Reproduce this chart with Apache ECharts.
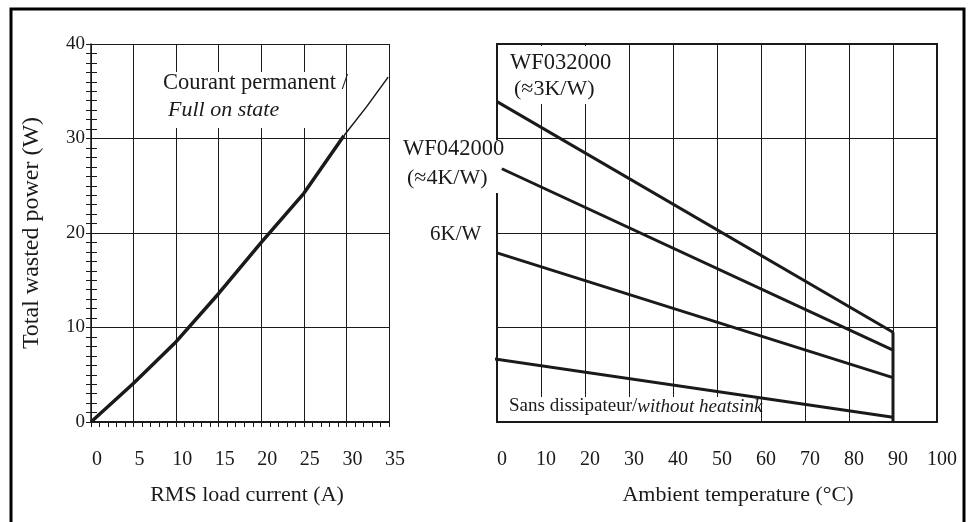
<!DOCTYPE html>
<html><head><meta charset="utf-8">
<script src="https://cdn.jsdelivr.net/npm/echarts@6.0.0/dist/echarts.min.js"></script>
<style>html,body{margin:0;padding:0;background:#fff}#c{width:973px;height:522px}</style>
</head><body><div id="c"></div>
<script>
// ---- Left chart: total wasted power vs RMS load current ----
const loadCurrentA      = [0, 5, 10, 15, 20, 25, 29.7];
const wastedPowerW      = [0, 4.1, 8.5, 13.6, 19.0, 24.2, 30.3];
const loadCurrentThinA  = [29.7, 32.4, 34.9];
const wastedPowerThinW  = [30.3, 33.4, 36.5];
// ---- Right chart: max power vs ambient temperature ----
const temp3KW   = [0, 90];   const power3KW   = [33.9, 9.5];
const temp4KW   = [1.1, 90]; const power4KW   = [26.8, 7.6];
const temp6KW   = [0, 90];   const power6KW   = [17.9, 4.7];
const tempNoHS  = [-1, 90];  const powerNoHS  = [6.7, 0.5];
const cutoffTemp = [90, 90]; const cutoffPower = [0, 9.5];
// axis ranges
const currentAxis = {min: 0, max: 35, interval: 5};
const powerAxis   = {min: 0, max: 40, interval: 10};
const tempAxis    = {min: 0, max: 100, interval: 10};

const FONT = '"Liberation Serif", "DejaVu Serif", serif';
const INK = '#1a1a1a';
const zip = (a, b) => a.map((v, i) => [v, b[i]]);

const chart = echarts.init(document.getElementById('c'), null, {renderer: 'canvas'});
const line = (xi, yi, xs, ys, w, extra) => Object.assign({
  type: 'line', xAxisIndex: xi, yAxisIndex: yi, data: zip(xs, ys),
  showSymbol: false, symbol: 'none', animation: false, z: 3,
  lineStyle: {color: INK, width: w, cap: 'butt'}
}, extra || {});

chart.setOption({
  animation: false,
  backgroundColor: '#fff',
  textStyle: {fontFamily: FONT, color: INK},
  grid: [
    {left: 91, top: 44, width: 298, height: 378, containLabel: false},
    {left: 497, top: 44, width: 440, height: 378, containLabel: false,
     show: true, borderColor: INK, borderWidth: 2, backgroundColor: 'transparent'}
  ],
  xAxis: [
    {gridIndex: 0, type: 'value', min: currentAxis.min, max: currentAxis.max, interval: currentAxis.interval,
     name: 'RMS load current (A)', nameLocation: 'middle', nameGap: 62,
     nameTextStyle: {fontFamily: FONT, fontSize: 22, color: INK, padding: [0, 0, 0, 14]},
     axisLine: {show: true, lineStyle: {color: INK, width: 2}},
     axisTick: {show: true, length: 5, lineStyle: {color: INK, width: 1}},
     minorTick: {show: true, splitNumber: 5, length: 5, lineStyle: {color: INK, width: 1}},
     splitLine: {show: true, lineStyle: {color: INK, width: 1}},
     axisLabel: {fontFamily: FONT, fontSize: 20, color: INK, margin: 28, padding: [0, 0, 0, 12]}},
    {gridIndex: 1, type: 'value', min: tempAxis.min, max: tempAxis.max, interval: tempAxis.interval,
     name: 'Ambient temperature (°C)', nameLocation: 'middle', nameGap: 62,
     nameTextStyle: {fontFamily: FONT, fontSize: 22, color: INK, padding: [0, 0, 0, 42]},
     axisLine: {show: true, lineStyle: {color: INK, width: 2}},
     axisTick: {show: false},
     splitLine: {show: true, lineStyle: {color: INK, width: 1}},
     axisLabel: {fontFamily: FONT, fontSize: 20, color: INK, margin: 28, padding: [0, 0, 0, 10]}}
  ],
  yAxis: [
    {gridIndex: 0, type: 'value', min: powerAxis.min, max: powerAxis.max, interval: powerAxis.interval,
     name: 'Total wasted power (W)', nameLocation: 'middle', nameGap: 47,
     nameTextStyle: {fontFamily: FONT, fontSize: 24, color: INK},
     axisLine: {show: true, lineStyle: {color: INK, width: 1.5}},
     axisTick: {show: true, length: 5, lineStyle: {color: INK, width: 1}},
     minorTick: {show: true, splitNumber: 10, length: 5, lineStyle: {color: INK, width: 1}},
     splitLine: {show: true, lineStyle: {color: INK, width: 1}},
     axisLabel: {fontFamily: FONT, fontSize: 19, color: INK, margin: 6}},
    {gridIndex: 0, type: 'value', min: powerAxis.min, max: powerAxis.max, interval: powerAxis.interval,
     position: 'left',
     axisLine: {show: false},
     axisTick: {show: true, inside: true, length: 6, lineStyle: {color: INK, width: 1}},
     minorTick: {show: true, splitNumber: 10, length: 6, lineStyle: {color: INK, width: 1}},
     splitLine: {show: false}, axisLabel: {show: false}},
    {gridIndex: 1, type: 'value', min: powerAxis.min, max: powerAxis.max, interval: powerAxis.interval,
     axisLine: {show: true, lineStyle: {color: INK, width: 2}},
     axisTick: {show: false},
     splitLine: {show: true, lineStyle: {color: INK, width: 1}},
     axisLabel: {show: false}}
  ],
  series: [
    line(0, 0, loadCurrentA, wastedPowerW, 3.5),
    line(0, 0, loadCurrentThinA, wastedPowerThinW, 1.5),
    line(1, 2, temp3KW, power3KW, 3),
    line(1, 2, temp4KW, power4KW, 3),
    line(1, 2, temp6KW, power6KW, 3),
    line(1, 2, tempNoHS, powerNoHS, 3, {clip: false}),
    line(1, 2, cutoffTemp, cutoffPower, 3)
  ],
  graphic: [
    {type: 'rect', z: 100, silent: true, shape: {x: 11, y: 9, width: 953, height: 540},
     style: {fill: 'none', stroke: '#000', lineWidth: 3}},
    // left annotation
    {type: 'rect', z: 1, silent: true, shape: {x: 158, y: 72, width: 186, height: 56}, style: {fill: '#fff'}},
    {type: 'text', z: 5, left: 163, top: 72,
     style: {text: 'Courant permanent /', font: '22.5px ' + FONT, fill: INK}},
    {type: 'text', z: 5, left: 168, top: 99,
     style: {text: 'Full on state', font: 'italic 22px ' + FONT, fill: INK}},
    // right annotations
    {type: 'rect', z: 1, silent: true, shape: {x: 500, y: 46, width: 120, height: 58}, style: {fill: '#fff'}},
    {type: 'text', z: 5, left: 510, top: 52,
     style: {text: 'WF032000', font: '22.5px ' + FONT, fill: INK}},
    {type: 'text', z: 5, left: 514, top: 78,
     style: {text: '(≈3K/W)', font: '22px ' + FONT, fill: INK}},
    {type: 'rect', z: 1, silent: true, shape: {x: 400, y: 140, width: 101, height: 53}, style: {fill: '#fff'}},
    {type: 'text', z: 5, left: 403, top: 138,
     style: {text: 'WF042000', font: '22.5px ' + FONT, fill: INK}},
    {type: 'text', z: 5, left: 407, top: 167,
     style: {text: '(≈4K/W)', font: '22px ' + FONT, fill: INK}},
    {type: 'text', z: 5, left: 430, top: 224,
     style: {text: '6K/W', font: '21px ' + FONT, fill: INK}},
    {type: 'rect', z: 1, silent: true, shape: {x: 503, y: 397, width: 257, height: 24}, style: {fill: '#fff'}},
    {type: 'text', z: 5, left: 509, top: 397,
     style: {text: '{a|Sans dissipateur/}{b|without heatsink}', font: '19px ' + FONT, fill: INK,
       rich: {a: {fontFamily: FONT, fontSize: 19, color: INK},
              b: {fontFamily: FONT, fontSize: 19, fontStyle: 'italic', color: INK}}}}
  ]
});
</script></body></html>
